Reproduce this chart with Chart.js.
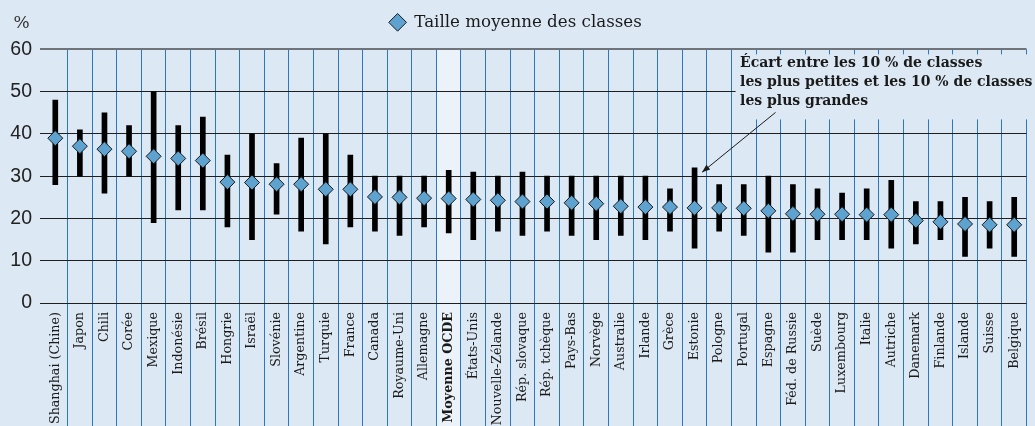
<!DOCTYPE html>
<html>
<head>
<meta charset="utf-8">
<script src="https://cdn.jsdelivr.net/npm/chart.js@4.4.1/dist/chart.umd.min.js"></script>
<style>
html,body{margin:0;padding:0;background:#dce8f3;}
canvas{display:block;}
</style>
</head>
<body>
<canvas id="c" width="1035" height="426"></canvas>
<script>
const categories = ['Shanghai (Chine)','Japon','Chili','Corée','Mexique','Indonésie','Brésil','Hongrie','Israël','Slovénie','Argentine','Turquie','France','Canada','Royaume-Uni','Allemagne','Moyenne OCDE','États-Unis','Nouvelle-Zélande','Rép. slovaque','Rép. tchèque','Pays-Bas','Norvège','Australie','Irlande','Grèce','Estonie','Pologne','Portugal','Espagne','Féd. de Russie','Suède','Luxembourg','Italie','Autriche','Danemark','Finlande','Islande','Suisse','Belgique'];
const meanSize = [39.0,37.1,36.4,35.9,34.7,34.2,33.7,28.6,28.5,28.1,28.1,26.9,26.9,25.1,25.0,24.8,24.7,24.5,24.3,24.0,24.0,23.7,23.5,22.9,22.7,22.7,22.5,22.5,22.4,21.8,21.1,21.0,21.0,20.9,20.9,19.5,19.2,18.7,18.5,18.5];
const low10 = [28,30,26,30,19,22,22,18,15,21,17,14,18,17,16,18,16.6,15,17,16,17,16,15,16,15,17,13,17,16,12,12,15,15,15,13,14,15,11,13,11];
const high10 = [48,41,45,42,50,42,44,35,40,33,39,40,35,30,30,30,31.4,31,30,31,30,30,30,30,30,27,32,28,28,30,28,27,26,27,29,24,24,25,24,25];
const yTicks = [0,10,20,30,40,50,60];
const unitLabel = '%';
const legendLabel = 'Taille moyenne des classes';
const rangeLabel = 'Écart entre les 10 % de classes les plus petites et les 10 % de classes les plus grandes';
const annotationLines = ['Écart entre les 10 % de classes','les plus petites et les 10 % de classes','les plus grandes'];
const annotatedCategory = 'Estonie';
const averageCategory = 'Moyenne OCDE';

const BG = '#dce8f3';
const SERIF = '"DejaVu Serif", "Liberation Serif", serif';
const SANS = '"Liberation Sans", Arial, sans-serif';

const decor = {
  id: 'decor',
  beforeDraw(chart) {
    const {ctx, scales: {x}, chartArea} = chart;
    const i = categories.indexOf(averageCategory);
    const w = x.getPixelForValue(1) - x.getPixelForValue(0);
    const cx = x.getPixelForValue(i);
    ctx.save();
    ctx.fillStyle = '#ebf2f9';
    ctx.fillRect(cx - w / 2, chartArea.top, w, chart.height - chartArea.top);
    ctx.restore();
  },
  beforeDatasetsDraw(chart) {
    const {ctx, scales: {x, y}} = chart;
    const cx = x.getPixelForValue(categories.indexOf(annotatedCategory));
    const top = y.getPixelForValue(yTicks[yTicks.length - 1]);
    ctx.save();
    ctx.fillStyle = BG;
    const left = cx + 41;
    ctx.fillRect(left, top + 5, chart.width - left, 65);
    ctx.restore();
  },
  afterDraw(chart) {
    const {ctx, scales: {x, y}} = chart;
    const idx = categories.indexOf(annotatedCategory);
    const cx = x.getPixelForValue(idx);
    const top = y.getPixelForValue(yTicks[yTicks.length - 1]);
    ctx.save();
    // unit
    ctx.fillStyle = '#333';
    ctx.font = '17px ' + SERIF;
    ctx.textAlign = 'center';
    ctx.textBaseline = 'middle';
    ctx.fillText(unitLabel, 21.5, 24);
    // annotation text
    ctx.fillStyle = '#1a1a1a';
    ctx.font = 'bold 14px ' + SERIF;
    ctx.textAlign = 'left';
    annotationLines.forEach((t, k) => ctx.fillText(t, cx + 45.5, top + 14 + k * 19));
    // arrow
    const x0 = cx + 81, y0 = top + 63;
    const x1 = cx + 7.5, y1 = y.getPixelForValue(high10[idx]) + 4.5;
    ctx.strokeStyle = '#1a1a1a';
    ctx.lineWidth = 1;
    ctx.beginPath(); ctx.moveTo(x0, y0); ctx.lineTo(x1, y1); ctx.stroke();
    const ang = Math.atan2(y1 - y0, x1 - x0);
    const L = 8, H = 3;
    ctx.fillStyle = '#1a1a1a';
    ctx.beginPath();
    ctx.moveTo(x1, y1);
    ctx.lineTo(x1 - L * Math.cos(ang) + H * Math.sin(ang), y1 - L * Math.sin(ang) - H * Math.cos(ang));
    ctx.lineTo(x1 - L * Math.cos(ang) - H * Math.sin(ang), y1 - L * Math.sin(ang) + H * Math.cos(ang));
    ctx.closePath(); ctx.fill();
    ctx.restore();
  }
};

new Chart(document.getElementById('c'), {
  type: 'bar',
  data: {
    labels: categories,
    datasets: [
      {
        type: 'line',
        label: legendLabel,
        data: meanSize,
        showLine: false,
        pointStyle: 'rectRot',
        pointRadius: 7.5,
        pointBackgroundColor: '#5ea2cf',
        pointBorderColor: '#1a1a1a',
        pointBorderWidth: 1,
        backgroundColor: '#5ea2cf',
        borderColor: '#1a1a1a',
        borderWidth: 1,
        order: 0
      },
      {
        label: rangeLabel,
        data: low10.map((l, i) => [l, high10[i]]),
        backgroundColor: '#000000',
        barThickness: 5,
        order: 1
      }
    ]
  },
  options: {
    responsive: false,
    animation: false,
    events: [],
    layout: {padding: {top: -5, left: 0, right: 4, bottom: 0}},
    plugins: {
      tooltip: {enabled: false},
      legend: {
        display: true,
        position: 'top',
        labels: {
          filter: (item) => item.text === legendLabel,
          usePointStyle: true,
          boxHeight: 12.5,
          padding: 19,
          color: '#1a1a1a',
          font: {family: SERIF, size: 16.7}
        }
      }
    },
    scales: {
      xTop: {
        type: 'category',
        position: 'top',
        display: true,
        border: {display: false},
        grid: {display: false, drawTicks: false},
        ticks: {display: false},
        afterFit: (s) => { s.height = 8.7; }
      },
      x: {
        offset: true,
        border: {display: false},
        grid: {
          offset: true,
          color: (c) => (c.index === 0 || c.index === categories.length) ? 'rgba(0,0,0,0)' : '#2a78c2',
          lineWidth: 1,
          tickLength: 123
        },
        ticks: {
          autoSkip: false,
          maxRotation: 90,
          minRotation: 90,
          padding: -114,
          color: '#1a1a1a',
          font: (c) => ({family: SERIF, size: 12.7, weight: categories[c.index] === averageCategory ? 'bold' : 'normal'})
        },
        afterFit: (s) => { s.height = 123; }
      },
      y: {
        min: yTicks[0],
        max: yTicks[yTicks.length - 1],
        border: {display: false},
        grid: {
          color: (c) => c.tick && c.tick.value === yTicks[yTicks.length - 1] ? '#6e7479' : '#1f1f1f',
          lineWidth: (c) => c.tick && c.tick.value === yTicks[yTicks.length - 1] ? 2 : 1,
          tickLength: 3
        },
        afterBuildTicks: (s) => { s.ticks = yTicks.map(v => ({value: v})); },
        ticks: {
          padding: 8,
          color: '#222',
          font: {family: SANS, size: 19.5}
        },
        afterFit: (s) => { s.width = 43; }
      }
    }
  },
  plugins: [decor]
});
</script>
</body>
</html>
